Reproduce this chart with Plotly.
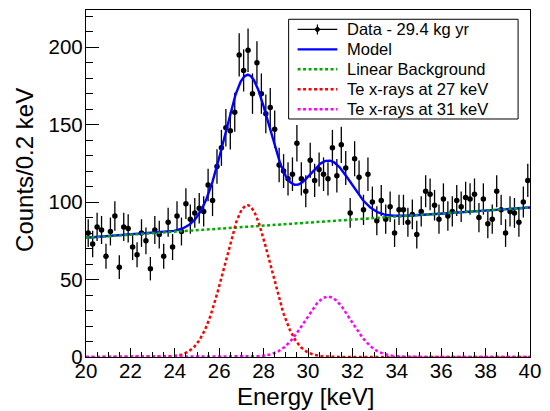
import numpy as np
import plotly.graph_objects as go

# ---- data (counts per 0.2 keV bin, 20-40 keV) ----
bin_width = 0.2
energy_min = 20.0
counts = [80, 73, 84, 82, 65, 81, 91, 58, 84, 83,
          71, 66, 80, 75, 57, 82, 79, 65, 87, 71,
          91, 81, 99, 89, 93, 96, 94, 111, 101, 123,
          135, 148, 146, 158, 195, 185, 198, 170, 190, 170,
          157, 161, 147, 124, 120, 115, 118, 138, 115, 107,
          127, 114, 121, 118, 115, 135, 117, 137, 122, 93,
          128, 116, 95, 118, 100, 88, 101, 89, 97, 80,
          95, 95, 87, 92, 79, 94, 107, 105, 98, 89,
          102, 91, 94, 101, 97, 103, 102, 105, 90, 102,
          86, 89, 107, 95, 80, 94, 93, 87, 100, 114]
energy = [energy_min + bin_width * (i + 0.5) for i in range(len(counts))]
errors = [np.sqrt(c) for c in counts]

# ---- model parameters ----
bg_at_20 = 77.0
bg_at_40 = 96.5
g1_amp, g1_mean, g1_sigma = 98.0, 27.27, 1.03
g2_amp, g2_mean, g2_sigma = 39.0, 30.9, 1.03

x_fine = np.linspace(20, 40, 801)
bg = bg_at_20 + (bg_at_40 - bg_at_20) * (x_fine - 20) / 20
g1 = g1_amp * np.exp(-0.5 * ((x_fine - g1_mean) / g1_sigma) ** 2)
g2 = g2_amp * np.exp(-0.5 * ((x_fine - g2_mean) / g2_sigma) ** 2)
model = bg + g1 + g2

legend_labels = ["Data - 29.4 kg yr", "Model", "Linear Background",
                 "Te x-rays at 27 keV", "Te x-rays at 31 keV"]

BLUE = "#0000ff"
GREEN = "#00aa00"
RED = "#ff0000"
MAGENTA = "#ff00ff"
FONT = "Liberation Sans, Arial, sans-serif"

fig = go.Figure()
fig.add_trace(go.Scatter(
    x=energy, y=counts, mode="markers",
    marker=dict(color="black", size=5.5, symbol="circle"),
    error_y=dict(type="data", array=errors, visible=True, color="black",
                 thickness=1.3, width=0),
    showlegend=False))
fig.add_trace(go.Scatter(x=x_fine, y=model, mode="lines",
                         line=dict(color=BLUE, width=2.4), showlegend=False))
fig.add_trace(go.Scatter(x=x_fine, y=bg, mode="lines",
                         line=dict(color=GREEN, width=2.5, dash="3px,2.5px"),
                         showlegend=False))
fig.add_trace(go.Scatter(x=x_fine, y=g1, mode="lines",
                         line=dict(color=RED, width=2.5, dash="3px,2.5px"),
                         showlegend=False))
fig.add_trace(go.Scatter(x=x_fine, y=g2, mode="lines",
                         line=dict(color=MAGENTA, width=2.5, dash="3px,2.5px"),
                         showlegend=False))

# ---- layout geometry (pixels) ----
W, H = 550, 411
L, R, T, B = 86, 17, 9, 54
pw, ph = W - L - R, H - T - B


def px(xp):
    return (xp - L) / pw


def py(yp):
    return (H - B - yp) / ph


shapes = []
annotations = []
# legend box
shapes.append(dict(type="rect", xref="paper", yref="paper",
                   x0=px(290), x1=px(521), y0=py(118.3), y1=py(18.3),
                   line=dict(color="black", width=1), fillcolor="white", layer="above"))
rows = [28.5, 48.5, 68.5, 88.5, 108.5]
styles = [("black", None, 1.2), (BLUE, None, 2.4), (GREEN, "dot", 2.5),
          (RED, "dot", 2.5), (MAGENTA, "dot", 2.5)]
for label, yrow, (col, dash, w) in zip(legend_labels, rows, styles):
    line = dict(color=col, width=w)
    if dash:
        line["dash"] = "3px,2.5px"
    shapes.append(dict(type="line", xref="paper", yref="paper",
                       x0=px(299), x1=px(339), y0=py(yrow), y1=py(yrow),
                       line=line, layer="above"))
    annotations.append(dict(text=label, xref="paper", yref="paper",
                            x=px(347), y=py(yrow), xanchor="left", yanchor="middle",
                            showarrow=False, font=dict(family=FONT, size=16.5, color="black")))
# data legend marker + error tick
shapes.append(dict(type="line", xref="paper", yref="paper",
                   x0=px(319), x1=px(319), y0=py(23.5), y1=py(33.5),
                   line=dict(color="black", width=1.2), layer="above"))
shapes.append(dict(type="circle", xref="paper", yref="paper",
                   x0=px(317), x1=px(321), y0=py(30.5), y1=py(26.5),
                   line=dict(color="black", width=1), fillcolor="black", layer="above"))

# axis titles
annotations.append(dict(text="Energy [keV]", xref="paper", yref="paper",
                        x=px(307), y=py(397), xanchor="center", yanchor="middle",
                        showarrow=False, font=dict(family=FONT, size=24, color="black")))
annotations.append(dict(text="Counts/0.2 keV", xref="paper", yref="paper",
                        x=px(24), y=py(169), xanchor="center", yanchor="middle",
                        textangle=-90, showarrow=False,
                        font=dict(family=FONT, size=24, color="black")))

fig.update_layout(
    width=W, height=H,
    margin=dict(l=L, r=R, t=T, b=B, pad=0),
    paper_bgcolor="white", plot_bgcolor="white",
    font=dict(family=FONT, size=20, color="black"),
    shapes=shapes, annotations=annotations,
    showlegend=False,
    xaxis=dict(range=[20, 40], tickmode="linear", tick0=20, dtick=2,
               ticks="inside", ticklen=9, tickwidth=1, tickcolor="black",
               minor=dict(dtick=0.5, ticks="inside", ticklen=5, tickwidth=1, tickcolor="black"),
               showline=True, linecolor="black", linewidth=1.3, mirror=True,
               showgrid=False, zeroline=False,
               tickfont=dict(family=FONT, size=20.5, color="black"),
               ticklabelstandoff=-5),
    yaxis=dict(range=[0, 224], tickmode="linear", tick0=0, dtick=50,
               ticks="inside", ticklen=13, tickwidth=1, tickcolor="black",
               minor=dict(dtick=10, ticks="inside", ticklen=7, tickwidth=1, tickcolor="black"),
               showline=True, linecolor="black", linewidth=1.3, mirror=True,
               showgrid=False, zeroline=False,
               tickfont=dict(family=FONT, size=20.5, color="black"),
               ticklabelstandoff=-2),
)

fig.write_html("out.html")
